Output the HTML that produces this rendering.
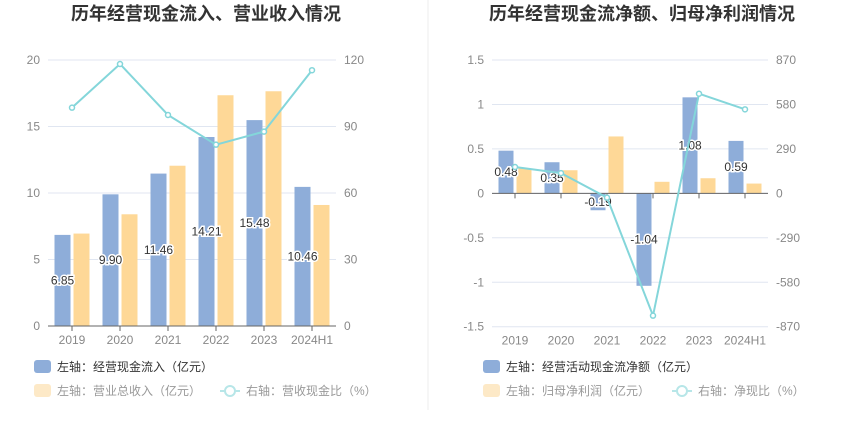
<!DOCTYPE html>
<html><head><meta charset="utf-8"><style>
body{margin:0;background:#fff;width:850px;height:437px;overflow:hidden;font-family:"Liberation Sans","Noto Sans CJK SC",sans-serif}
svg text{font-family:"Liberation Sans","Noto Sans CJK SC",sans-serif}
</style></head><body>
<svg id="c" width="850" height="437" xmlns="http://www.w3.org/2000/svg">
<line x1="428" y1="0" x2="428" y2="410" stroke="#eee"/>
<text x="206" y="20" text-anchor="middle" font-size="18" font-weight="bold" fill="#333">历年经营现金流入、营业收入情况</text>
<text x="642" y="20" text-anchor="middle" font-size="18" font-weight="bold" fill="#333">历年经营现金流净额、归母净利润情况</text>
<g>
<rect x="34" y="360" width="17" height="13" rx="3" fill="#8eadd9"/>
<text x="57" y="371" font-size="12" fill="#333">左轴：经营现金流入（亿元）</text>
<rect x="34" y="384" width="17" height="13" rx="3" fill="#fde9c7"/>
<text x="57" y="395" font-size="12" fill="#999">左轴：营业总收入（亿元）</text>
<line x1="220" y1="391" x2="240" y2="391" stroke="#b7e6e8" stroke-width="2"/>
<circle cx="230" cy="391" r="5" fill="#fff" stroke="#b7e6e8" stroke-width="2"/>
<text x="246" y="395" font-size="12" fill="#999">右轴：营收现金比（%）</text>
</g>
<g>
<rect x="483" y="360" width="17" height="13" rx="3" fill="#8eadd9"/>
<text x="506" y="371" font-size="12" fill="#333">左轴：经营活动现金流净额（亿元）</text>
<rect x="483" y="384" width="17" height="13" rx="3" fill="#fde9c7"/>
<text x="506" y="395" font-size="12" fill="#999">左轴：归母净利润（亿元）</text>
<line x1="672" y1="391" x2="692" y2="391" stroke="#b7e6e8" stroke-width="2"/>
<circle cx="682" cy="391" r="5" fill="#fff" stroke="#b7e6e8" stroke-width="2"/>
<text x="698" y="395" font-size="12" fill="#999">右轴：净现比（%）</text>
</g>
</svg>
<script>
const categories=["2019","2020","2021","2022","2023","2024H1"];
const cashInflow=[6.85,9.90,11.46,14.21,15.48,10.46];
const revenue=[6.95,8.4,12.05,17.35,17.65,9.1];
const cashRatio=[98.5,118.2,95.2,81.8,87.7,115.4];
const leftTicks=[0,5,10,15,20];
const leftRightTicks=[0,30,60,90,120];
const netCash=[0.48,0.35,-0.19,-1.04,1.08,0.59];
const netProfit=[0.28,0.26,0.64,0.13,0.17,0.11];
const netRatio=[172,132,-28,-798,650,548];
const rTicks=[-1.5,-1,-0.5,0,0.5,1,1.5];
const rRightTicks=[-870,-580,-290,0,290,580,870];

const svg=document.getElementById('c');
const NS='http://www.w3.org/2000/svg';
function mk(tag,attrs,txt){const e=document.createElementNS(NS,tag);for(const k in attrs)e.setAttribute(k,attrs[k]);if(txt!==undefined)e.textContent=txt;svg.appendChild(e);return e;}

function drawChart(o){
  const yL=v=>o.y0-(v-o.lmin)/(o.lmax-o.lmin)*(o.y0-o.y1);
  const yR=v=>o.y0-(v-o.rmin)/(o.rmax-o.rmin)*(o.y0-o.y1);
  const bw=(o.x1-o.x0)/categories.length;
  const cx=i=>o.x0+bw*(i+0.5);
  o.lt.forEach((t,i)=>{
    const y=yL(t);
    const g=mk('line',{x1:o.x0,x2:o.x1,y1:y,y2:y,stroke:'#e0e6f1'});
    
    
    const a=mk('text',{x:o.x0-8,y:y+4,'text-anchor':'end','font-size':12,fill:'#888'},String(t));
    
    
    const b=mk('text',{x:o.x1+8,y:y+4,'font-size':12,fill:'#888'},String(o.rt[i]));
    
    
  });
  const zy=yL(0);
  categories.forEach((c,i)=>{
    const ya=o.a[i], yb=o.b[i];
    const r1=mk('rect',{x:cx(i)-o.bar-1.5,y:Math.min(yL(ya),zy),width:o.bar,height:Math.abs(yL(ya)-zy),fill:'#8eadd9'});
    
    
    const r2=mk('rect',{x:cx(i)+1.5,y:Math.min(yL(yb),zy),width:o.bar,height:Math.abs(yL(yb)-zy),fill:'#fed897'});
    
    
    const t=mk('text',{x:cx(i)-o.bar/2-1.5,y:o.labY(ya,yL)+4,'text-anchor':'middle','font-size':12,fill:'#333',stroke:'#fff','stroke-width':3,'paint-order':'stroke'},ya.toFixed(2));
    
    
    const xl=mk('text',{x:cx(i),y:o.y0+18,'text-anchor':'middle','font-size':12,fill:'#888'},c);
    
    
    const tk=mk('line',{x1:cx(i),x2:cx(i),y1:zy,y2:zy+5,stroke:'#666'});
    
    
  });
  const ax=mk('line',{x1:o.x0,x2:o.x1,y1:zy,y2:zy,stroke:'#666'});
  
  
  const pts=o.line.map((v,i)=>cx(i)+','+yR(v)).join(' ');
  const pl=mk('polyline',{points:pts,fill:'none',stroke:'#84d6da','stroke-width':2});
  
  
  o.line.forEach((v,i)=>{
    const p=mk('circle',{cx:cx(i),cy:yR(v),r:2.5,fill:'#fff',stroke:'#84d6da','stroke-width':1.5});
    
    
  });
}
drawChart({x0:48,x1:336,y0:326,y1:60,lmin:0,lmax:20,rmin:0,rmax:120,lt:leftTicks,rt:leftRightTicks,a:cashInflow,b:revenue,line:cashRatio,bar:16,an:'cash-inflow',bn:'revenue',labY:(v,yL)=>yL(v/2)});
drawChart({x0:492,x1:768,y0:326.7,y1:60,lmin:-1.5,lmax:1.5,rmin:-870,rmax:870,lt:rTicks,rt:rRightTicks,a:netCash,b:netProfit,line:netRatio,bar:15,an:'net-cash',bn:'net-profit',labY:(v,yL)=>yL(v/2)});
</script>
</body></html>
